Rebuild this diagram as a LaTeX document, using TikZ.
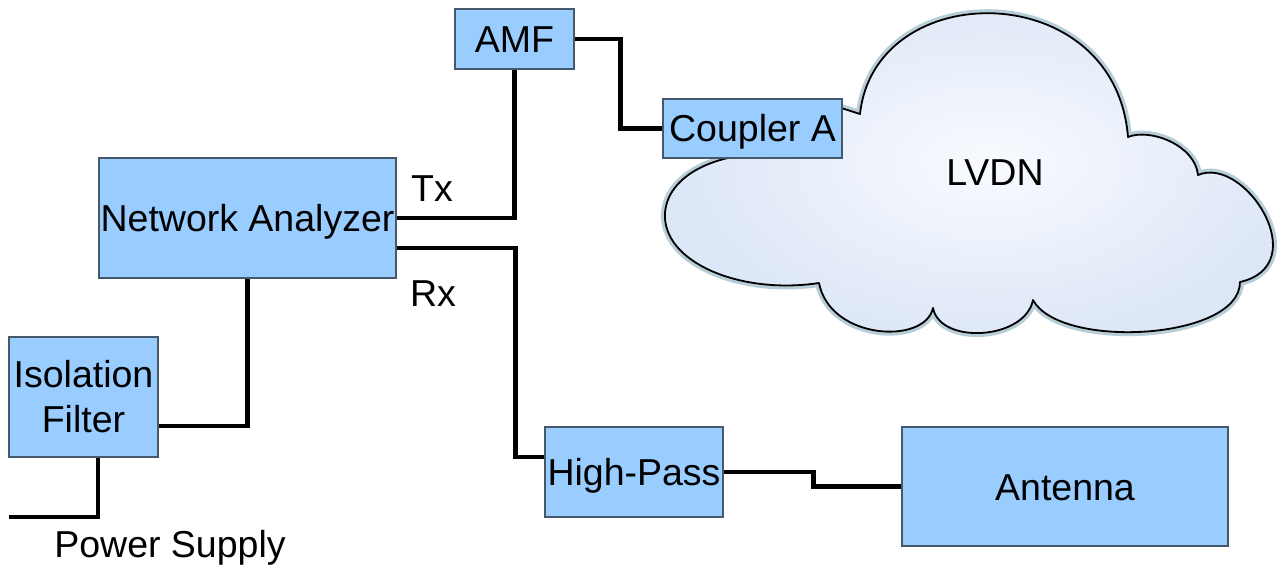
\documentclass[tikz,border=0pt]{standalone}
\usepackage{fontspec}
\setmainfont{Liberation Sans}
\definecolor{boxblue}{HTML}{99CCFF}
\definecolor{boxedge}{HTML}{45596B}
\definecolor{cloudin}{HTML}{F8FAFE}
\definecolor{cloudout}{HTML}{DCE6F7}
\definecolor{cloudglow}{HTML}{9FBCCA}
\tikzset{
  unit/.style={draw=boxedge, line width=1.1pt, fill=boxblue, inner sep=0pt,
    text height=27pt, text depth=0pt, align=center},
  lbl/.style={anchor=base, inner sep=0pt},
  wire/.style={line width=4.6pt, black, line join=miter},
}
\begin{document}
\begin{tikzpicture}[x=1pt, y=-1pt, font=\fontsize{37.5}{45}\selectfont]
\useasboundingbox (0,0) rectangle (1278,572);

% low-voltage distribution network cloud
\path[preaction={draw=cloudglow, line width=8pt, opacity=0.75},
      inner color=cloudin, outer color=cloudout, shade,
      draw=black, line width=1.8pt, line join=round]
  (835,106) -- (860,114)
  .. controls (875,-24) and (1115,-24) .. (1128,137)
  .. controls (1150,128) and (1195,145) .. (1198,175)
  .. controls (1245,155) and (1315,265) .. (1240,282)
  .. controls (1240,340) and (1060,350) .. (1033,300)
  .. controls (1025,340) and (940,345) .. (933,308)
  .. controls (925,345) and (830,340) .. (819,283)
  .. controls (740,295) and (662,262) .. (665,213)
  .. controls (668,170) and (730,150) .. (770,156)
  -- cycle;
\node[lbl] (lvdn) at (995,186) {LVDN};

% measurement units
\node[unit, minimum width=119pt, minimum height=60pt] (amf) at (514.5,39) {AMF};
\node[unit, minimum width=179pt, minimum height=59pt] (cpl) at (752.5,128.5) {Coupler A};
\node[unit, minimum width=297pt, minimum height=120pt] (na) at (247.5,218) {Network Analyzer};
\node[unit, minimum width=149pt, minimum height=120pt, text height={}, text depth={}] (iso) at (83.5,397) {Isolation\\Filter};
\node[unit, minimum width=178pt, minimum height=90pt] (hp) at (634,472) {High-Pass};
\node[unit, minimum width=326pt, minimum height=119pt] (ant) at (1065,486.5) {Antenna};

% port and supply labels
\node[lbl] (tx) at (432,202) {Tx};
\node[lbl] (rx) at (433,307) {Rx};
\node[lbl] (ps) at (170,557) {Power Supply};
\coordinate (mains) at (9,517);

% cabling
\draw[wire] (na.east) -| (amf.south);
\draw[wire] ([yshift=-30pt]na.east) -- ++(119,0) |- ([yshift=15pt]hp.west);
\draw[wire] (na.south) |- ([yshift=-29pt]iso.east);
\draw[wire] ([xshift=14.5pt]iso.south) |- (mains);
\draw[wire] (amf.east) -- ++(46,0) |- (cpl.west);
\draw[wire] (hp.east) -- ++(90,0) |- (ant.west);
\end{tikzpicture}
\end{document}
